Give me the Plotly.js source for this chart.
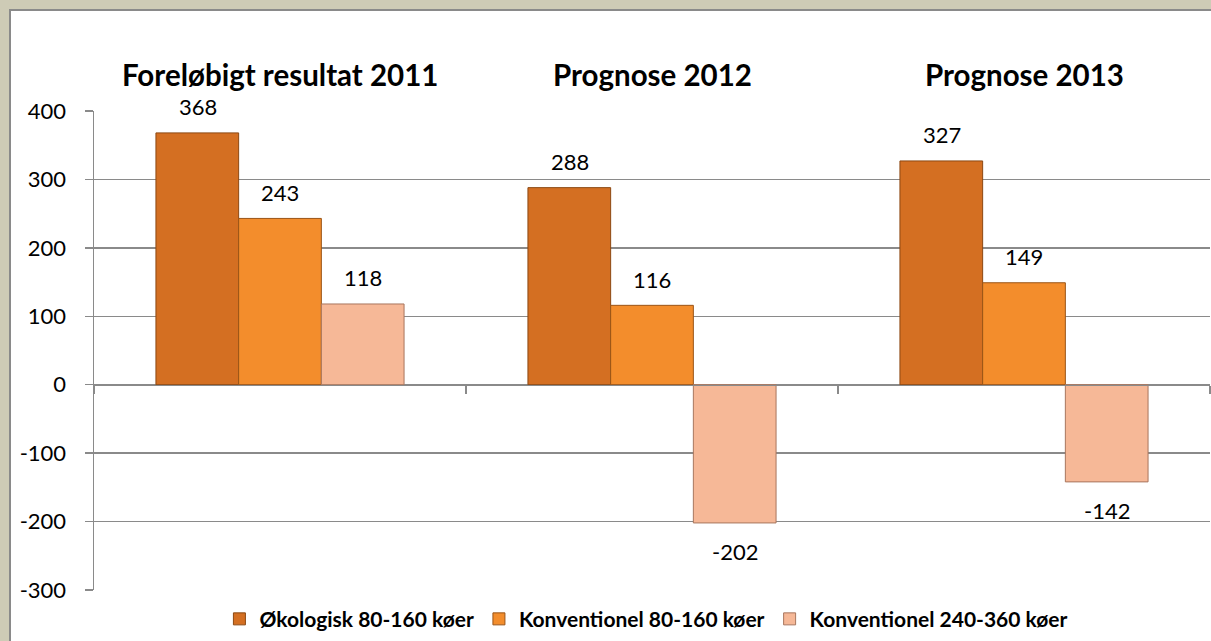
<!DOCTYPE html>
<html>
<head>
<meta charset="utf-8">
<script src="https://cdn.plot.ly/plotly-3.0.1.min.js"></script>
<style>
  html, body { margin:0; padding:0; background:#ffffff; overflow:hidden; }
  #bgTop { position:fixed; left:0; top:0; right:0; height:9px; background:#cecbb6; }
  #bgLeft { position:fixed; left:0; top:0; bottom:0; width:9px; background:#cecbb6; }
  #bdTop { position:fixed; left:9px; top:9px; right:0; height:2px; background:#8a8a8a; }
  #bdLeft { position:fixed; left:9px; top:9px; bottom:0; width:2px; background:#8a8a8a; }
  #chart { position:fixed; left:11px; top:11px; width:1200px; height:630px; }
</style>
</head>
<body>
<div id="chart"></div>
<div id="bgTop"></div><div id="bgLeft"></div><div id="bdTop"></div><div id="bdLeft"></div>
<script>
const categories = ["Foreløbigt resultat 2011", "Prognose 2012", "Prognose 2013"];
const seriesNames = ["Økologisk 80-160 køer", "Konventionel 80-160 køer", "Konventionel 240-360 køer"];
const okologisk = [368, 288, 327];
const konv80 = [243, 116, 149];
const konv240 = [118, -202, -142];
const yTickVals = [-300, -200, -100, 0, 100, 200, 300, 400];
const yTickText = ["-300", "-200", "-100", "0", "100", "200", "300", "400"];

const allSeries = [okologisk, konv80, konv240];
const colors = ["#d46f22", "#f38d2c", "#f6b897"];
const lineColors = ["#8c4812", "#9a5416", "#a8765e"];
const FONT = "Lato, 'Open Sans', sans-serif";

const traces = allSeries.map((vals, i) => ({
  type: "bar",
  name: seriesNames[i],
  x: categories,
  y: vals,
  marker: { color: colors[i], line: { color: lineColors[i], width: 1 } },
  hoverinfo: "x+y+name"
}));

const annotations = [];
allSeries.forEach((vals, i) => {
  vals.forEach((v, j) => {
    annotations.push({
      xref: "x", yref: "y", x: categories[j], y: v,
      text: String(v), showarrow: false,
      xshift: (i - 1) * 82.5,
      yshift: v >= 0 ? 26 : -29,
      font: { family: FONT, size: 22, color: "#000" }
    });
  });
});
categories.forEach(c => {
  annotations.push({
    xref: "x", yref: "paper", x: c, y: 1, yanchor: "middle", yshift: 37,
    text: "<b>" + c + "</b>", showarrow: false,
    font: { family: FONT, size: 29.5, color: "#000" }
  });
});

const layout = {
  width: 1200, height: 630,
  margin: { l: 83, r: 1, t: 100, b: 48 },
  paper_bgcolor: "#fff", plot_bgcolor: "#fff",
  barmode: "group", bargap: 0.333, bargroupgap: 0,
  showlegend: true,
  legend: {
    orientation: "h", x: 0.495, xanchor: "center", y: -0.061, yanchor: "middle",
    font: { family: FONT, size: 21, color: "#000", weight: "bold" },
    traceorder: "normal", itemwidth: 30
  },
  xaxis: {
    type: "category", anchor: "free", position: 300/700,
    showline: true, linecolor: "#8a8a8a", linewidth: 1.5,
    ticks: "outside", tickson: "boundaries", ticklen: 8, tickcolor: "#8a8a8a", tickwidth: 1.5,
    showticklabels: false, showgrid: false, zeroline: false, fixedrange: true
  },
  yaxis: {
    range: [-300, 400], tickmode: "array", tickvals: yTickVals, ticktext: yTickText,
    showline: true, linecolor: "#8a8a8a", linewidth: 1.5,
    ticks: "outside", ticklen: 8, tickcolor: "#8a8a8a", tickwidth: 1.5,
    showgrid: true, gridcolor: "#8a8a8a", gridwidth: 1.5, zeroline: false,
    tickfont: { family: FONT, size: 22, color: "#000" }, ticklabelstandoff: 14,
    fixedrange: true
  },
  annotations: annotations
};

Plotly.newPlot("chart", traces, layout, { displayModeBar: false, staticPlot: true });
</script>
</body>
</html>
